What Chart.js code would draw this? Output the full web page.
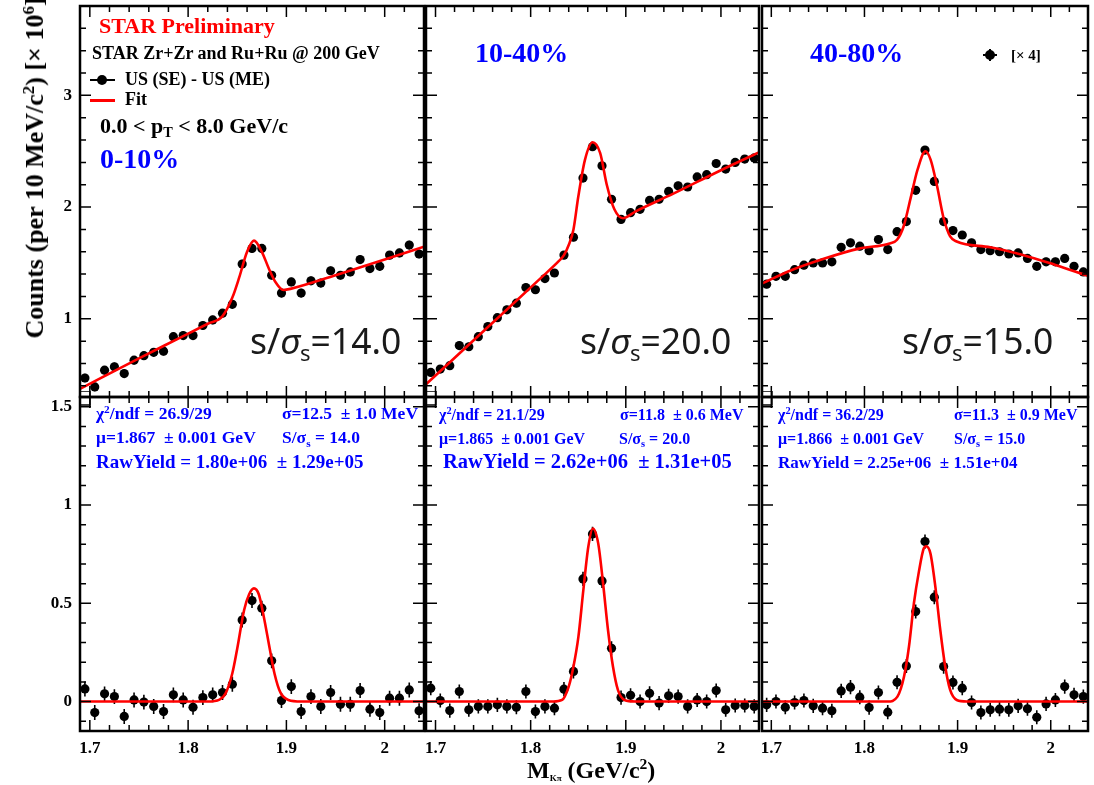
<!DOCTYPE html>
<html>
<head>
<meta charset="utf-8">
<script src="https://cdn.jsdelivr.net/npm/chart.js@4.4.1/dist/chart.umd.min.js"></script>
<style>
body { margin: 0; width: 1094px; height: 785px; background: #fff; position: relative; overflow: hidden;
	font-family: "Liberation Serif", "Times New Roman", serif; font-weight: bold; }
canvas { position: absolute; }
.t { position: absolute; white-space: pre; line-height: 1; }
.sup { font-size: 0.65em; position: relative; top: -0.55em; }
.sub { font-size: 0.65em; position: relative; top: 0.3em; }
.sub2 { font-size: 0.62em; position: relative; top: 0.28em; }
.mk { position: absolute; background: #000; }
</style>
</head>
<body>
<script>
// mass bin centres (GeV/c^2), 10 MeV bins
var binCenters = [1.695, 1.705, 1.715, 1.725, 1.735, 1.745, 1.755, 1.765, 1.775, 1.785, 1.795, 1.805,
	1.815, 1.825, 1.835, 1.845, 1.855, 1.865, 1.875, 1.885, 1.895, 1.905, 1.915, 1.925, 1.935, 1.945,
	1.955, 1.965, 1.975, 1.985, 1.995, 2.005, 2.015, 2.025, 2.035];

// US(SE) - US(ME), x10^6 counts
var top010 = [0.47, 0.39, 0.54, 0.57, 0.51, 0.63, 0.67, 0.70, 0.71, 0.84, 0.85, 0.85, 0.94, 0.99, 1.05, 1.13, 1.49, 1.63,
	1.63, 1.39, 1.23, 1.33, 1.23, 1.34, 1.32, 1.43, 1.39, 1.42, 1.53, 1.45, 1.47, 1.57, 1.59, 1.66, 1.58];
var top1040 = [0.52, 0.55, 0.58, 0.76, 0.75, 0.84, 0.93, 1.01, 1.08, 1.14, 1.28, 1.26, 1.36, 1.41, 1.57, 1.73, 2.26, 2.54,
	2.37, 2.07, 1.89, 1.95, 1.98, 2.06, 2.07, 2.14, 2.19, 2.18, 2.27, 2.29, 2.39, 2.34, 2.40, 2.43, 2.44];
var top4080 = [1.31, 1.38, 1.38, 1.44, 1.48, 1.50, 1.50, 1.51, 1.64, 1.68, 1.65, 1.61, 1.71, 1.62, 1.78, 1.87, 2.15, 2.51,
	2.23, 1.87, 1.79, 1.75, 1.68, 1.62, 1.61, 1.60, 1.58, 1.59, 1.54, 1.47, 1.51, 1.51, 1.54, 1.47, 1.42];

// residual signal after background subtraction
var sig010 = [0.064, -0.056, 0.039, 0.025, -0.076, 0.008, -0.003, -0.025, -0.051, 0.034, 0.008, -0.029, 0.02, 0.034,
	0.046, 0.088, 0.415, 0.514, 0.475, 0.207, 0.005, 0.076, -0.051, 0.025, -0.025, 0.046, -0.014, -0.014, 0.056,
	-0.039, -0.056, 0.017, 0.017, 0.059, -0.047];
var sig1040 = [0.068, 0.005, -0.046, 0.051, -0.042, -0.025, -0.025, -0.017, -0.025, -0.029, 0.051, -0.051, -0.025,
	-0.034, 0.063, 0.153, 0.624, 0.853, 0.614, 0.271, 0.02, 0.032, 0.0, 0.042, -0.008, 0.029, 0.025, -0.025, 0.008,
	0.0, 0.056, -0.042, -0.02, -0.02, -0.025];
var sig4080 = [-0.017, 0.0, -0.029, -0.005, 0.005, -0.022, -0.034, -0.047, 0.054, 0.073, 0.022, -0.031, 0.046, -0.054,
	0.098, 0.181, 0.458, 0.814, 0.531, 0.178, 0.097, 0.068, -0.005, -0.056, -0.042, -0.039, -0.042, -0.022, -0.037,
	-0.08, -0.012, 0.008, 0.076, 0.034, 0.025];

// statistical error per panel (same for top and bottom)
var errBars = [0.038, 0.036, 0.036];

// fit curves
var fitTopX010 = [1.69, 1.75, 1.79, 1.82, 1.835, 1.845, 1.852, 1.86, 1.867, 1.875, 1.882, 1.889, 1.897, 1.905, 1.95, 2.0, 2.04];
var fitTopY010 = [0.372, 0.646, 0.823, 0.956, 1.024, 1.19, 1.37, 1.60, 1.70, 1.60, 1.453, 1.327, 1.258, 1.27, 1.39, 1.53, 1.645];
var fitTopX1040 = [1.69, 1.75, 1.81, 1.83, 1.835, 1.84, 1.845, 1.85, 1.857, 1.865, 1.873, 1.88, 1.888, 1.897, 1.91, 1.95, 2.0, 2.04];
var fitTopY1040 = [0.413, 0.886, 1.36, 1.52, 1.57, 1.66, 1.80, 2.09, 2.42, 2.58, 2.485, 2.2, 1.98, 1.90, 1.96, 2.12, 2.33, 2.49];
var fitTopX4080 = [1.69, 1.722, 1.758, 1.793, 1.828, 1.835, 1.842, 1.85, 1.857, 1.8655, 1.871, 1.878, 1.885, 1.892, 1.899, 1.935, 1.97, 2.005, 2.04];
var fitTopY4080 = [1.315, 1.437, 1.542, 1.626, 1.677, 1.707, 1.826, 2.096, 2.335, 2.50, 2.425, 2.186, 1.90, 1.737, 1.692, 1.64, 1.572, 1.482, 1.385];

var fitSigX010 = [1.69, 1.82, 1.832, 1.838, 1.845, 1.85, 1.857, 1.862, 1.867, 1.872, 1.877, 1.883, 1.888, 1.894, 1.902, 1.915, 2.04];
var fitSigY010 = [0, 0, 0.01, 0.04, 0.144, 0.27, 0.466, 0.545, 0.576, 0.545, 0.432, 0.27, 0.14, 0.045, 0.008, 0, 0];
var fitSigX1040 = [1.69, 1.824, 1.833, 1.84, 1.845, 1.8502, 1.8554, 1.8606, 1.8654, 1.871, 1.8761, 1.8813, 1.8865, 1.8917, 1.8986, 1.91, 2.04];
var fitSigY1040 = [0, 0, 0.008, 0.076, 0.178, 0.33, 0.568, 0.788, 0.881, 0.805, 0.602, 0.364, 0.178, 0.059, 0.008, 0, 0];
var fitSigX4080 = [1.69, 1.825, 1.8354, 1.8425, 1.8478, 1.8531, 1.8584, 1.8637, 1.8662, 1.8708, 1.8761, 1.8814, 1.8867, 1.892, 1.8991, 1.91, 2.04];
var fitSigY4080 = [0, 0, 0.025, 0.127, 0.28, 0.5, 0.66, 0.78, 0.79, 0.754, 0.585, 0.364, 0.178, 0.059, 0.008, 0, 0];

// axes
var xRange = [1.69, 2.04];
var xTickLabels = [1.7, 1.8, 1.9, 2];
var yTopRange = [0.3, 3.8];
var yTopTicks = [1, 2, 3];
var yBotRange = [-0.15, 1.55];
var yBotTicks = [0, 0.5, 1, 1.5];

// panel frames on the page
var colBox = [[80, 424], [426, 759], [762, 1088]];
var rowBox = [[6, 397], [397, 731]];

function tickLoop(min, max, step, major, fn) {
	var k0 = Math.ceil(min / step - 1e-6), k1 = Math.floor(max / step + 1e-6);
	for (var k = k0; k <= k1; k++) {
		var v = k * step, r = v / major;
		fn(v, Math.abs(r - Math.round(r)) < 1e-6);
	}
}

var frameTicks = {
	id: 'frameTicks',
	afterDraw: function (chart, args, o) {
		var a = chart.chartArea, c = chart.ctx;
		var xs = chart.scales.x, ys = chart.scales.y;
		c.save();
		c.strokeStyle = '#000';
		c.lineWidth = 1.5;
		c.beginPath();
		tickLoop(xs.min, xs.max, 0.02, 0.1, function (v, major) {
			var px = xs.getPixelForValue(v), len = major ? 11 : 6;
			c.moveTo(px, a.bottom); c.lineTo(px, a.bottom - len);
			c.moveTo(px, a.top); c.lineTo(px, a.top + len);
		});
		tickLoop(ys.min, ys.max, o.yMinor, o.yMajor, function (v, major) {
			var py = ys.getPixelForValue(v), len = major ? 11 : 6;
			c.moveTo(a.left, py); c.lineTo(a.left + len, py);
			c.moveTo(a.right, py); c.lineTo(a.right - len, py);
		});
		c.stroke();
		c.lineWidth = 2.5;
		c.strokeRect(a.left, a.top, a.right - a.left, a.bottom - a.top);
		if (o.corner) {
			c.lineWidth = 1.5;
			c.strokeRect(a.left, a.top - 6, 10, 14);
		}
		c.restore();
	}
};

var errorBars = {
	id: 'errorBars',
	beforeDatasetsDraw: function (chart, args, o) {
		var meta = chart.getDatasetMeta(1), ds = chart.data.datasets[1], ys = chart.scales.y, c = chart.ctx;
		c.save();
		c.strokeStyle = '#000';
		c.lineWidth = 1.6;
		c.beginPath();
		meta.data.forEach(function (pt, i) {
			var v = ds.data[i].y;
			c.moveTo(pt.x, ys.getPixelForValue(v - o.err));
			c.lineTo(pt.x, ys.getPixelForValue(v + o.err));
		});
		c.stroke();
		c.restore();
	}
};

function toPoints(xs, ys) {
	return xs.map(function (x, i) { return {x: x, y: ys[i]}; });
}

var tickFont = {family: '"Liberation Serif", serif', weight: 'bold', size: 17};

function makePanel(col, row, values, fitX, fitY) {
	var padL = col === 0 ? 55 : 8, padR = 8, padT = 6, padB = row === 1 ? 45 : 8;
	var L = colBox[col][0], R = colBox[col][1], T = rowBox[row][0], B = rowBox[row][1];
	var cv = document.createElement('canvas');
	cv.width = R - L + padL + padR;
	cv.height = B - T + padT + padB;
	cv.style.left = (L - padL) + 'px';
	cv.style.top = (T - padT) + 'px';
	document.body.appendChild(cv);

	var yr = row === 0 ? yTopRange : yBotRange;
	var yt = row === 0 ? yTopTicks : yBotTicks;

	new Chart(cv.getContext('2d'), {
		type: 'line',
		data: {
			datasets: [
				{
					label: 'Fit',
					data: toPoints(fitX, fitY),
					borderColor: '#ff0000',
					borderWidth: 2.6,
					pointRadius: 0,
					fill: false,
					cubicInterpolationMode: 'monotone'
				},
				{
					label: 'US (SE) - US (ME)',
					data: toPoints(binCenters, values),
					showLine: false,
					pointRadius: 4.6,
					pointBackgroundColor: '#000',
					pointBorderWidth: 0,
					clip: false
				}
			]
		},
		options: {
			responsive: false,
			animation: false,
			devicePixelRatio: 1,
			layout: {padding: {left: 0, right: padR, top: padT, bottom: 0}},
			plugins: {
				legend: {display: false},
				tooltip: {enabled: false},
				frameTicks: {yMinor: row === 0 ? 0.2 : 0.1, yMajor: row === 0 ? 1 : 0.5, corner: row === 1},
				errorBars: {err: errBars[col]}
			},
			scales: {
				x: {
					type: 'linear', min: xRange[0], max: xRange[1],
					grid: {display: false, drawTicks: false}, border: {display: false},
					ticks: {display: row === 1, padding: 7, color: '#000', font: tickFont, autoSkip: false, maxRotation: 0,
						callback: function (v) { return String(v); }},
					afterBuildTicks: function (s) { s.ticks = xTickLabels.map(function (v) { return {value: v}; }); },
					afterFit: function (s) { s.height = padB; s.paddingLeft = 0; s.paddingRight = 0; }
				},
				y: {
					type: 'linear', min: yr[0], max: yr[1],
					grid: {display: false, drawTicks: false}, border: {display: false},
					ticks: {display: col === 0, padding: 8, color: '#000', font: tickFont,
						callback: function (v) { return String(v); }},
					afterBuildTicks: function (s) { s.ticks = yt.map(function (v) { return {value: v}; }); },
					afterFit: function (s) { s.width = padL; s.paddingTop = 0; s.paddingBottom = 0; }
				}
			}
		},
		plugins: [frameTicks, errorBars]
	});
}

makePanel(0, 0, top010, fitTopX010, fitTopY010);
makePanel(1, 0, top1040, fitTopX1040, fitTopY1040);
makePanel(2, 0, top4080, fitTopX4080, fitTopY4080);
makePanel(0, 1, sig010, fitSigX010, fitSigY010);
makePanel(1, 1, sig1040, fitSigX1040, fitSigY1040);
makePanel(2, 1, sig4080, fitSigX4080, fitSigY4080);

// text
var baseK = {serif: 0.8375, sans: 0.888};
function addText(html, left, base, size, color, fam) {
	fam = fam || 'serif';
	var d = document.createElement('div');
	d.className = 't';
	d.innerHTML = html;
	d.style.left = left + 'px';
	d.style.top = (base - baseK[fam] * size) + 'px';
	d.style.fontSize = size + 'px';
	d.style.color = color;
	if (fam === 'sans') {
		d.style.fontFamily = '"Noto Sans", sans-serif';
		d.style.fontWeight = 'normal';
	}
	document.body.appendChild(d);
	return d;
}
function mark(left, top, w, h, round, color) {
	var d = document.createElement('div');
	d.className = 'mk';
	d.style.left = left + 'px'; d.style.top = top + 'px';
	d.style.width = w + 'px'; d.style.height = h + 'px';
	if (round) d.style.borderRadius = '50%';
	if (color) d.style.background = color;
	document.body.appendChild(d);
}

var blue = '#0000ff';
addText('STAR Preliminary', 99, 33, 22, '#ff0000');
addText('STAR Zr+Zr and Ru+Ru @ 200 GeV', 92, 59, 18, '#000');
addText('US (SE) - US (ME)', 125, 85, 18, '#000');
addText('Fit', 125, 105, 18, '#000');
mark(90, 79, 25, 2);
mark(97, 75, 10, 10, true);
mark(90, 98.5, 25, 3, false, '#ff0000');
addText('0.0 &lt; p<span class="sub">T</span> &lt; 8.0 GeV/c', 100, 133, 22, '#000');
addText('0-10%', 100, 168, 28, blue);
addText('10-40%', 475, 62, 28, blue);
addText('40-80%', 810, 62, 28, blue);
mark(983, 54, 14, 2);
mark(989, 49, 2, 12);
mark(985, 50, 10, 10, true);
addText('[× 4]', 1011, 61, 15, '#000');

var sLabel = 's/<i>σ</i><span class="sub2">s</span>=';
addText(sLabel + '14.0', 250, 355, 35.5, '#1a1a1a', 'sans');
addText(sLabel + '20.0', 580, 355, 35.5, '#1a1a1a', 'sans');
addText(sLabel + '15.0', 902, 355, 35.5, '#1a1a1a', 'sans');

addText('χ<span class="sup">2</span>/ndf = 26.9/29', 96, 420, 17.5, blue);
addText('σ=12.5  ± 1.0 MeV', 282, 420, 17.5, blue);
addText('μ=1.867  ± 0.001 GeV', 96, 444, 17.5, blue);
addText('S/σ<span class="sub">s</span> = 14.0', 282, 444, 17.5, blue);
addText('RawYield = 1.80e+06  ± 1.29e+05', 96, 468, 19, blue);

addText('χ<span class="sup">2</span>/ndf = 21.1/29', 439, 420, 16, blue);
addText('σ=11.8  ± 0.6 MeV', 620, 420, 16, blue);
addText('μ=1.865  ± 0.001 GeV', 439, 444, 16, blue);
addText('S/σ<span class="sub">s</span> = 20.0', 619, 444, 16, blue);
addText('RawYield = 2.62e+06  ± 1.31e+05', 443, 468, 20.5, blue);

addText('χ<span class="sup">2</span>/ndf = 36.2/29', 778, 420, 16, blue);
addText('σ=11.3  ± 0.9 MeV', 954, 420, 16, blue);
addText('μ=1.866  ± 0.001 GeV', 778, 444, 16, blue);
addText('S/σ<span class="sub">s</span> = 15.0', 954, 444, 16, blue);
addText('RawYield = 2.25e+06  ± 1.51e+04', 778, 468, 17, blue);

// axis titles
var yt = addText('Counts (per 10 MeV/c<span class="sup">2</span>) [× 10<span class="sup">6</span>]', 0, 0, 26, '#000');
yt.style.left = '35px';
yt.style.top = '168px';
yt.style.transform = 'translate(-50%, -50%) rotate(-90deg)';
addText('M<span style="font-size:9px;position:relative;top:3px">Kπ</span> (GeV/c<span class="sup">2</span>)', 527, 778, 24, '#000');
</script>
</body>
</html>
